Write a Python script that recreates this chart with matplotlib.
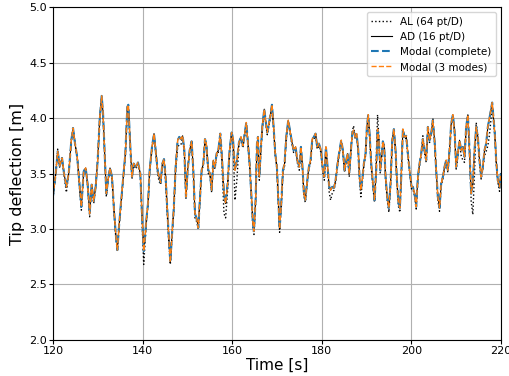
import matplotlib
matplotlib.use("Agg")
import matplotlib.pyplot as plt

# Time [s]
time = [
    120.0, 120.6, 121.04, 121.49, 122.0, 122.46, 122.98, 123.5, 124.09, 124.46,
    124.91, 125.43, 125.95, 126.32, 126.85, 127.29, 127.74, 128.18, 128.63, 129.08,
    129.52, 129.97, 130.42, 130.86, 131.16, 131.53, 131.9, 132.28, 132.72, 133.17,
    133.62, 133.99, 134.36, 134.73, 135.1, 135.63, 136.15, 136.59, 136.82, 137.26,
    137.63, 138.0, 138.45, 138.97, 139.49, 139.85, 140.25, 140.6,
    140.83, 141.21, 141.58, 142.1, 142.55, 142.92, 143.36, 143.66, 144.03, 144.41,
    144.78, 145.15, 145.52, 145.89, 146.19, 146.49, 146.94, 147.38, 147.83, 148.2,
    148.57, 148.94, 149.32, 149.69, 150.06, 150.51, 150.95, 151.33, 151.7, 152.14,
    152.44, 152.74, 153.19, 153.56, 153.93, 154.23, 154.67, 155.05, 155.42, 155.79,
    156.16, 156.53, 156.91, 157.35, 157.72, 158.17, 158.54, 158.99, 159.43, 159.88,
    160.18, 160.63, 161.07, 161.52, 161.97, 162.41, 162.86, 163.16, 163.53, 163.9,
    164.27, 164.64, 164.87, 165.24, 165.54, 165.76, 166.06, 166.36, 166.73, 167.17,
    167.47, 167.84, 168.22, 168.59, 168.89, 169.26, 169.63, 170.0, 170.3, 170.6,
    170.97, 171.34, 171.71, 172.08, 172.53, 172.9, 173.28, 173.72, 174.17, 174.54,
    174.99, 175.36, 175.66, 176.03, 176.33, 176.7, 177.14, 177.52, 177.89, 178.26,
    178.63, 179.0, 179.38, 179.82,
    180.27, 180.57, 180.94, 181.31, 181.68, 181.98, 182.35, 182.73, 183.1, 183.54,
    183.99, 184.36, 184.73, 185.11, 185.48, 185.78, 186.15, 186.52, 186.82, 187.12,
    187.49, 187.79, 188.16, 188.45, 188.75, 189.05, 189.42, 189.79, 190.09, 190.39,
    190.69, 191.06, 191.43, 191.8, 192.17, 192.47, 192.77, 193.07, 193.37, 193.66,
    193.96, 194.26, 194.63, 195.0, 195.37, 195.75, 196.12, 196.49, 196.79, 197.16,
    197.46, 197.76, 198.13, 198.5, 198.87, 199.24, 199.62, 200.06,
    200.36, 200.73, 201.1, 201.48, 201.85, 202.22, 202.59, 202.96, 203.34, 203.71,
    204.08, 204.45, 204.82, 205.2, 205.57, 205.94, 206.31, 206.68, 207.06, 207.43,
    207.8, 208.17, 208.54, 208.92, 209.29, 209.66, 210.03, 210.4, 210.78, 211.15,
    211.52, 211.89, 212.26, 212.64, 213.01, 213.38, 213.75, 214.12, 214.5, 214.87,
    215.24, 215.61, 215.98, 216.36, 216.73, 217.1, 217.47, 217.84, 218.07, 218.37,
    218.66, 218.96, 219.33, 219.71, 220.0,
]

# Modal / AD (curves overlap in the reference)
modal = [
    3.30, 3.50, 3.70, 3.57, 3.64, 3.50, 3.38, 3.50, 3.80, 3.91,
    3.77, 3.64, 3.38, 3.20, 3.52, 3.55, 3.40, 3.14, 3.40, 3.25,
    3.38, 3.62, 3.99, 4.20, 4.05, 3.68, 3.32, 3.44, 3.55, 3.47,
    3.17, 2.96, 2.81, 3.02, 3.20, 3.44, 3.68, 4.10, 4.12, 3.74,
    3.47, 3.59, 3.56, 3.60, 3.50, 3.15, 2.80, 2.95,
    3.08, 3.23, 3.53, 3.74, 3.86, 3.71, 3.53, 3.47, 3.42, 3.59,
    3.63, 3.47, 3.17, 2.90, 2.70, 2.90, 3.17, 3.56, 3.80, 3.83,
    3.81, 3.84, 3.71, 3.29, 3.53, 3.71, 3.79, 3.53, 3.14, 3.08,
    3.01, 3.23, 3.53, 3.59, 3.81, 3.77, 3.53, 3.50, 3.35, 3.62,
    3.56, 3.68, 3.71, 3.86, 3.65, 3.32, 3.23, 3.41, 3.71, 3.87,
    3.82, 3.53, 3.62, 3.78, 3.83, 3.75, 3.88, 3.96, 3.77, 3.59,
    3.32, 3.05, 2.98, 3.26, 3.77, 3.83, 3.47, 3.68, 3.92, 4.08,
    3.98, 3.87, 3.95, 4.04, 4.12, 3.92, 3.68, 3.56, 3.29, 3.00,
    3.23, 3.53, 3.59, 3.83, 3.98, 3.89, 3.80, 3.71, 3.74, 3.62,
    3.56, 3.74, 3.59, 3.32, 3.26, 3.41, 3.56, 3.62, 3.81, 3.83,
    3.86, 3.74, 3.77, 3.71,
    3.53, 3.47, 3.74, 3.56, 3.38, 3.35, 3.38, 3.37, 3.44, 3.59,
    3.71, 3.80, 3.71, 3.53, 3.62, 3.68, 3.50, 3.71, 3.86, 3.89,
    3.83, 3.86, 3.71, 3.47, 3.35, 3.44, 3.59, 3.68, 3.92, 4.03,
    3.86, 3.59, 3.41, 3.26, 3.53, 3.90, 3.80, 3.53, 3.65, 3.79,
    3.74, 3.47, 3.29, 3.19, 3.41, 3.80, 3.90, 3.71, 3.44, 3.23,
    3.19, 3.47, 3.90, 3.83, 3.84, 3.68, 3.53, 3.38,
    3.38, 3.32, 3.20, 3.47, 3.59, 3.68, 3.81, 3.71, 3.62, 3.92,
    3.80, 3.86, 3.98, 3.80, 3.53, 3.29, 3.19, 3.41, 3.47, 3.56,
    3.62, 3.53, 3.71, 3.95, 4.03, 3.89, 3.56, 3.68, 3.80, 3.71,
    3.74, 3.65, 3.92, 4.03, 3.71, 3.32, 3.41, 3.71, 3.92, 3.83,
    3.62, 3.47, 3.56, 3.71, 3.77, 3.92, 4.00, 4.09, 4.14, 4.00,
    3.86, 3.62, 3.44, 3.38, 3.50,
]

# AL (64 pt/D), black dotted
al = [
    3.28, 3.50, 3.72, 3.55, 3.64, 3.48, 3.33, 3.50, 3.80, 3.90,
    3.77, 3.62, 3.35, 3.17, 3.52, 3.55, 3.38, 3.11, 3.40, 3.23,
    3.38, 3.62, 3.99, 4.18, 4.03, 3.66, 3.29, 3.44, 3.53, 3.45,
    3.15, 2.94, 2.80, 3.02, 3.18, 3.44, 3.66, 4.08, 4.10, 3.72,
    3.45, 3.59, 3.54, 3.58, 3.48, 3.10, 2.68, 2.90,
    3.06, 3.21, 3.53, 3.72, 3.84, 3.69, 3.50, 3.43, 3.40, 3.57,
    3.60, 3.42, 3.13, 2.86, 2.68, 2.88, 3.15, 3.53, 3.74, 3.76,
    3.76, 3.82, 3.69, 3.27, 3.53, 3.69, 3.76, 3.50, 3.10, 3.06,
    3.00, 3.21, 3.53, 3.57, 3.79, 3.75, 3.50, 3.48, 3.33, 3.60,
    3.54, 3.66, 3.69, 3.84, 3.60, 3.14, 3.10, 3.35, 3.69, 3.85,
    3.80, 3.26, 3.45, 3.76, 3.81, 3.73, 3.86, 3.94, 3.75, 3.57,
    3.30, 3.02, 2.95, 3.24, 3.75, 3.81, 3.44, 3.66, 3.90, 4.06,
    3.96, 3.85, 3.93, 4.02, 4.10, 3.90, 3.66, 3.54, 3.26, 2.97,
    3.21, 3.51, 3.57, 3.81, 3.96, 3.87, 3.78, 3.69, 3.72, 3.60,
    3.53, 3.72, 3.56, 3.30, 3.24, 3.39, 3.54, 3.60, 3.79, 3.81,
    3.84, 3.72, 3.75, 3.69,
    3.51, 3.44, 3.72, 3.54, 3.33, 3.26, 3.32, 3.35, 3.42, 3.57,
    3.69, 3.78, 3.69, 3.51, 3.60, 3.66, 3.47, 3.69, 3.88, 3.93,
    3.81, 3.84, 3.69, 3.43, 3.29, 3.42, 3.57, 3.66, 3.90, 4.00,
    3.84, 3.56, 3.38, 3.24, 3.60, 4.03, 3.82, 3.50, 3.63, 3.77,
    3.76, 3.45, 3.26, 3.15, 3.39, 3.78, 3.88, 3.69, 3.42, 3.20,
    3.15, 3.45, 3.88, 3.81, 3.82, 3.66, 3.51, 3.36,
    3.36, 3.30, 3.18, 3.45, 3.57, 3.66, 3.84, 3.69, 3.60, 3.90,
    3.78, 3.84, 4.00, 3.78, 3.51, 3.26, 3.16, 3.39, 3.45, 3.54,
    3.60, 3.51, 3.69, 3.93, 4.02, 3.87, 3.54, 3.66, 3.78, 3.66,
    3.62, 3.60, 3.90, 4.02, 3.69, 3.25, 3.13, 3.50, 3.96, 3.84,
    3.60, 3.45, 3.54, 3.66, 3.70, 3.75, 3.85, 4.00, 4.10, 3.98,
    3.84, 3.60, 3.42, 3.34, 3.48,
]

ad = modal
modal_complete = modal
modal_3modes = modal

labels = ["AL (64 pt/D)", "AD (16 pt/D)", "Modal (complete)", "Modal (3 modes)"]
x_ticks = [120, 140, 160, 180, 200, 220]
y_ticks = [2.0, 2.5, 3.0, 3.5, 4.0, 4.5, 5.0]

fig = plt.figure(figsize=(5.10, 3.76), dpi=100)
ax = fig.add_axes([0.104, 0.096, 0.878, 0.885])

ax.plot(time, al, color="black", linestyle=":", linewidth=1.0, label=labels[0])
ax.plot(time, ad, color="black", linestyle="-", linewidth=0.8, label=labels[1])
ax.plot(time, modal_complete, color="#1f77b4", linestyle="--", linewidth=1.5, label=labels[2])
ax.plot(time, modal_3modes, color="#ff7f0e", linestyle="--", linewidth=1.0, label=labels[3])

ax.set_xlim(120, 220)
ax.set_ylim(2.0, 5.0)
ax.set_xticks(x_ticks)
ax.set_yticks(y_ticks)
ax.tick_params(labelsize=8, length=3, pad=1.5)
ax.grid(True, color="#b0b0b0", linewidth=0.8)
ax.set_axisbelow(True)
ax.set_xlabel("Time [s]", fontsize=11, labelpad=1)
ax.set_ylabel("Tip deflection [m]", fontsize=11.5, labelpad=3)
ax.legend(loc="upper right", fontsize=7.5)

fig.savefig("out.png", dpi=100)
